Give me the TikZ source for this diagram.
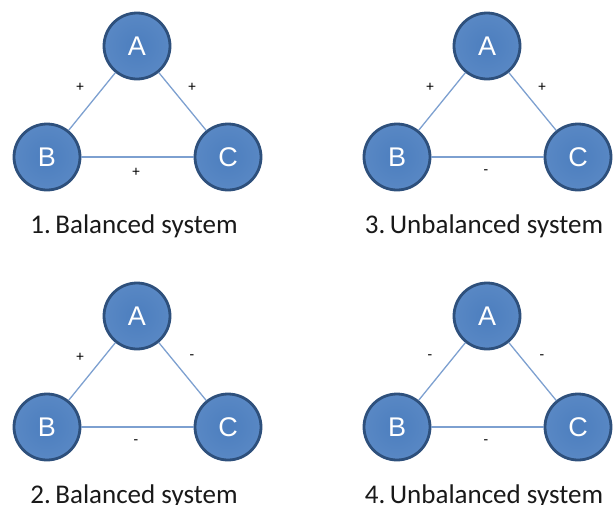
\documentclass[tikz,border=0pt]{standalone}
\usepackage{fontspec}
\setmainfont{Carlito}
\newfontfamily\nodefont{Liberation Sans}
\definecolor{ballfill}{RGB}{76,126,190}
\definecolor{ballrim}{RGB}{46,80,124}
\definecolor{ballglow}{RGB}{140,175,222}
\definecolor{edgeblue}{RGB}{125,160,208}
\tikzset{
  ball/.style={circle, minimum size=66pt, inner sep=0pt, draw=ballrim, line width=2.8pt,
    shade, shading=radial, inner color=ballfill, outer color=ballfill!80!ballglow,
    text=white, font=\nodefont\fontsize{27}{27}\selectfont},
  tie/.style={draw=edgeblue, line width=1.3pt},
  sign/.style={font=\fontsize{15}{15}\selectfont, text=black},
  caption/.style={font=\fontsize{27}{27}\selectfont, text=black!90}
}
% one signed triangle: #1 suffix, #2 x, #3 y, #4 sign A-B, #5 sign A-C, #6 sign B-C, #7 caption
\newcommand\signedtriangle[7]{%
  \begin{scope}[shift={(#2,#3)}]
    \node[ball] (A#1) at (137,46) {A};
    \node[ball] (B#1) at (47,157) {B};
    \node[ball] (C#1) at (228,157) {C};
    \draw[tie] (A#1) -- (B#1);
    \draw[tie] (A#1) -- (C#1);
    \draw[tie] (B#1) -- (C#1);
    \node[sign] (sab#1) at (80,87) {#4};
    \node[sign] (sac#1) at (192,87) {#5};
    \node[sign] (sbc#1) at (136,172) {#6};
    \node[caption] (cap#1) at (134,226) {#7};
  \end{scope}}
\begin{document}
\begin{tikzpicture}[x=1pt,y=-1pt]
  \useasboundingbox (0,0) rectangle (613,504);
  \signedtriangle{1}{0}{0}{+}{+}{+}{1.\,Balanced system}
  \signedtriangle{3}{350}{0}{+}{+}{-}{3.\,Unbalanced system}
  \signedtriangle{2}{0}{270}{+}{-}{-}{2.\,Balanced system}
  \signedtriangle{4}{350}{270}{-}{-}{-}{4.\,Unbalanced system}
\end{tikzpicture}
\end{document}
